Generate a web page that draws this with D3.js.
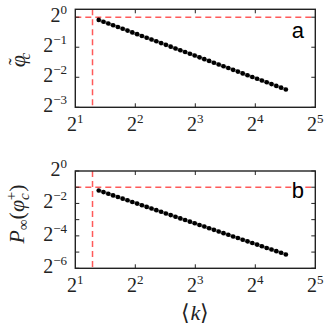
<!DOCTYPE html>
<html><head><meta charset="utf-8">
<script src="https://cdn.jsdelivr.net/npm/d3@7"></script>
<style>body{margin:0;background:#fff}svg{display:block}</style>
</head><body>
<script>
// ---- data ----
const kValues = [2.621,2.770,2.928,3.095,3.272,3.458,3.655,3.864,4.084,4.317,4.563,4.823,5.098,5.389,5.696,6.021,6.364,6.727,7.111,7.516,7.945,8.398,8.877,9.383,9.918,10.483,11.081,11.713,12.381,13.086,13.833,14.622,15.455,16.336,17.267,18.253,19.293,20.394,21.555,22.785];
const phiC = [0.9395,0.9016,0.8653,0.8304,0.7969,0.7648,0.7340,0.7044,0.6760,0.6488,0.6226,0.5975,0.5734,0.5503,0.5281,0.5068,0.4862,0.4668,0.4479,0.4299,0.4125,0.3959,0.3799,0.3646,0.3499,0.3358,0.3222,0.3093,0.2968,0.2848,0.2734,0.2623,0.2518,0.2416,0.2319,0.2225,0.2136,0.2049,0.1967,0.1887];
const pInf = [0.4353,0.4058,0.3783,0.3527,0.3288,0.3065,0.2857,0.2663,0.2483,0.2315,0.2158,0.2011,0.1875,0.1748,0.1630,0.1519,0.1416,0.1320,0.1231,0.1147,0.1070,0.0997,0.0930,0.0867,0.0808,0.0753,0.0702,0.0655,0.0610,0.0569,0.0530,0.0494,0.0461,0.0430,0.0400,0.0373,0.0348,0.0325,0.0303,0.0282];
const xTickExps = [1,2,3,4,5];
const yTickExpsA = [0,-1,-2,-3];
const yLabelExpsA = [0,-1,-2,-3];
const yTickExpsB = [0,-1,-2,-3,-4,-5,-6];
const yLabelExpsB = [0,-2,-4,-6];
const kCritical = 2.44;
const refA = 1.0, refB = 0.5;

const W = 332, H = 335;
const svg = d3.select("body").append("svg").attr("width", W).attr("height", H);

const x = d3.scaleLog().base(2).domain([2, 32]).range([75.3, 315.3]);

function panel(cfg) {
  const y = d3.scaleLog().base(2).domain(cfg.yDomain).range([cfg.bottom, cfg.top]);
  const g = svg.append("g");
  const x0 = x.range()[0], x1 = x.range()[1];
  // red dashed lines
  g.append("line").attr("x1", x(kCritical)).attr("x2", x(kCritical)).attr("y1", cfg.top).attr("y2", cfg.bottom)
    .attr("stroke", "#ff5a5a").attr("stroke-width", 1.5).attr("stroke-dasharray", "6,4");
  g.append("line").attr("x1", x0).attr("x2", x1).attr("y1", y(cfg.ref)).attr("y2", y(cfg.ref))
    .attr("stroke", "#ff5a5a").attr("stroke-width", 1.5).attr("stroke-dasharray", "6,4");
  // data line + points
  const pts = kValues.map((k, i) => [k, cfg.data[i]]);
  g.append("path").datum(pts)
    .attr("d", d3.line().x(d => x(d[0])).y(d => y(d[1])))
    .attr("fill", "none").attr("stroke", "#808080").attr("stroke-width", 3.2).attr("stroke-opacity", 0.8);
  g.selectAll("circle.pt").data(pts).join("circle")
    .attr("cx", d => x(d[0])).attr("cy", d => y(d[1])).attr("r", 2.3).attr("fill", "#000");
  // frame
  g.append("rect").attr("x", x0).attr("y", cfg.top).attr("width", x1 - x0).attr("height", cfg.bottom - cfg.top)
    .attr("fill", "none").attr("stroke", "#222").attr("stroke-width", 1.4);
  // ticks (inward, all sides)
  const tl = 4;
  xTickExps.slice(1, -1).forEach(e => {
    const xx = x(Math.pow(2, e));
    g.append("line").attr("x1", xx).attr("x2", xx).attr("y1", cfg.bottom).attr("y2", cfg.bottom - tl).attr("stroke", "#222").attr("stroke-width", 1);
    g.append("line").attr("x1", xx).attr("x2", xx).attr("y1", cfg.top).attr("y2", cfg.top + tl).attr("stroke", "#222").attr("stroke-width", 1);
  });
  cfg.yTicks.forEach(e => {
    const yy = y(Math.pow(2, e));
    g.append("line").attr("x1", x0).attr("x2", x0 + tl).attr("y1", yy).attr("y2", yy).attr("stroke", "#222").attr("stroke-width", 1);
    g.append("line").attr("x1", x1).attr("x2", x1 - tl).attr("y1", yy).attr("y2", yy).attr("stroke", "#222").attr("stroke-width", 1);
  });
  // tick labels
  xTickExps.forEach(e => {
    const t = g.append("text").attr("x", x(Math.pow(2, e))).attr("y", cfg.bottom + 24)
      .attr("text-anchor", "middle").attr("font-family", "Liberation Serif, serif").attr("font-size", 20).attr("fill", "#222");
    t.append("tspan").text("2");
    t.append("tspan").attr("dy", -8).attr("font-size", 13).text(String(e));
  });
  cfg.yLabels.forEach(e => {
    const t = g.append("text").attr("x", 67).attr("y", y(Math.pow(2, e)) + 5)
      .attr("text-anchor", "end").attr("font-family", "Liberation Serif, serif").attr("font-size", 20).attr("fill", "#222");
    t.append("tspan").text("2");
    t.append("tspan").attr("dy", -8).attr("font-size", 13).text(e < 0 ? "\u2212" + (-e) : String(e));
  });
  // panel letter
  g.append("text").attr("x", 304).attr("y", cfg.letterY).attr("text-anchor", "end")
    .attr("font-family", "Liberation Sans, Arial, sans-serif").attr("font-size", 22).attr("fill", "#000").text(cfg.letter);
  return g;
}

panel({ top: 9.3, bottom: 107.3, yDomain: [0.125, 1.2], data: phiC, ref: refA,
        yTicks: yTickExpsA, yLabels: yLabelExpsA, letter: "a", letterY: 37.5 });
panel({ top: 171, bottom: 268.3, yDomain: [1/64, 1], data: pInf, ref: refB,
        yTicks: yTickExpsB, yLabels: yLabelExpsB, letter: "b", letterY: 198 });

// axis titles
const tA = svg.append("text").attr("transform", "translate(25,60) rotate(-90)")
  .attr("text-anchor", "middle").attr("font-family", "Liberation Serif, serif").attr("font-size", 22).attr("fill", "#222");
tA.append("tspan").attr("font-style", "italic").text("\u03C6");
tA.append("tspan").attr("font-size", 20).attr("dx", -10).attr("dy", -2).text("\u02DC");
tA.append("tspan").attr("font-style", "italic").attr("font-size", 15).attr("dx", -1).attr("dy", 7).text("c");

const tB = svg.append("text").attr("transform", "translate(24,214) rotate(-90)")
  .attr("text-anchor", "middle").attr("font-family", "Liberation Serif, serif").attr("font-size", 22).attr("fill", "#222");
tB.append("tspan").attr("font-style", "italic").text("P");
tB.append("tspan").attr("font-size", 15).attr("dy", 4).text("\u221E");
tB.append("tspan").attr("font-size", 22).attr("dy", -4).text("(");
tB.append("tspan").attr("font-style", "italic").text("\u03C6");
tB.append("tspan").attr("font-style", "italic").attr("font-size", 15).attr("dy", 5).text("c");
tB.append("tspan").attr("font-size", 15).attr("dy", -13).attr("dx", -7).text("+");
tB.append("tspan").attr("font-size", 22).attr("dy", 8).text(")");

const tX = svg.append("text").attr("x", 195.3).attr("y", 320)
  .attr("text-anchor", "middle").attr("font-family", "Liberation Serif, serif").attr("font-size", 22).attr("fill", "#222");
tX.append("tspan").text("\u27E8");
tX.append("tspan").attr("font-style", "italic").text("k");
tX.append("tspan").text("\u27E9");
</script>
</body></html>
